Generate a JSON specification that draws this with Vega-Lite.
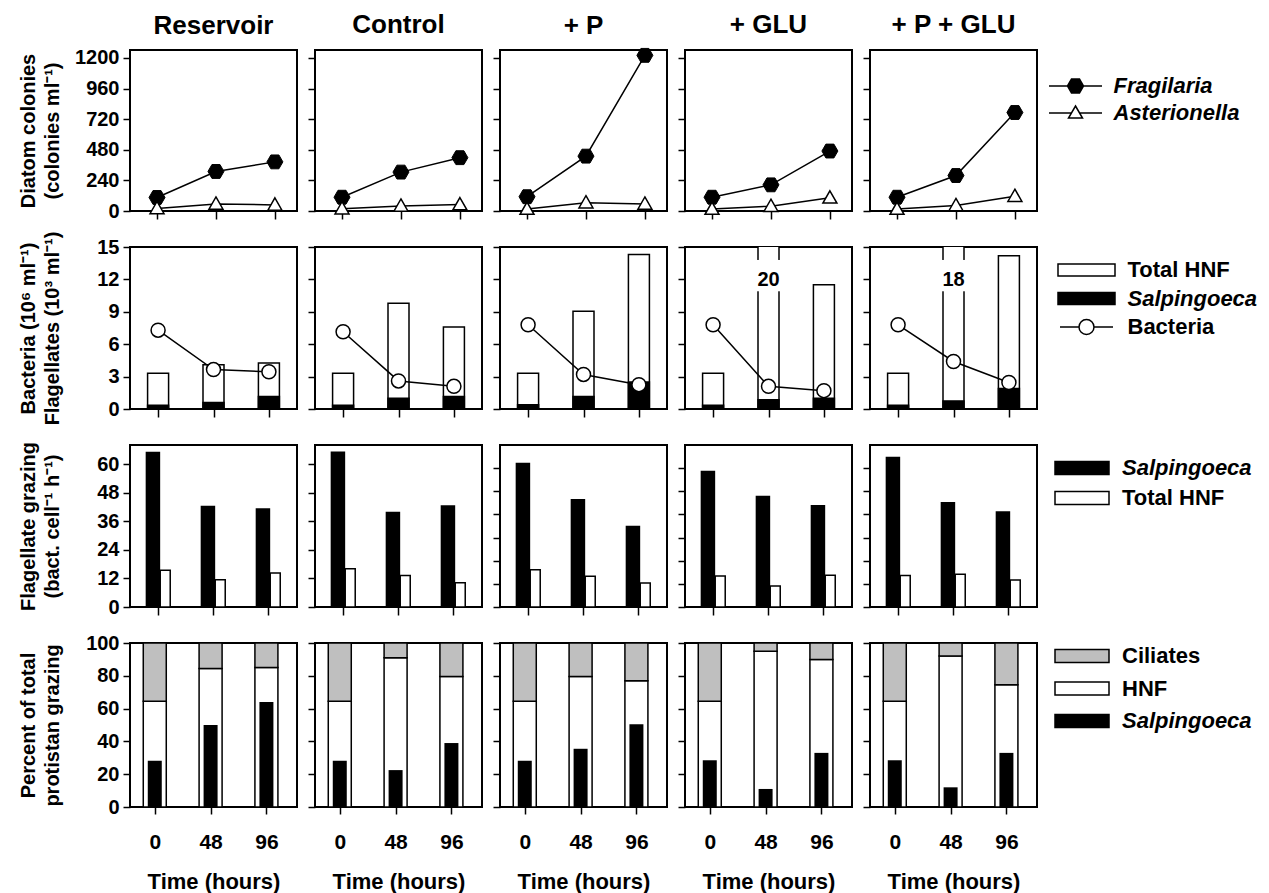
{
"$schema": "https://vega.github.io/schema/vega-lite/v6.json",
"background": "white",
"padding": {"left": 16, "top": 11, "right": 5, "bottom": 5},
"datasets": {
"dia": [
{"treat":"Reservoir","time":0,"species":"Fragilaria","value":106},
{"treat":"Reservoir","time":48,"species":"Fragilaria","value":310},
{"treat":"Reservoir","time":96,"species":"Fragilaria","value":385},
{"treat":"Reservoir","time":0,"species":"Asterionella","value":20},
{"treat":"Reservoir","time":48,"species":"Asterionella","value":55},
{"treat":"Reservoir","time":96,"species":"Asterionella","value":48},
{"treat":"Control","time":0,"species":"Fragilaria","value":108},
{"treat":"Control","time":48,"species":"Fragilaria","value":305},
{"treat":"Control","time":96,"species":"Fragilaria","value":418},
{"treat":"Control","time":0,"species":"Asterionella","value":18},
{"treat":"Control","time":48,"species":"Asterionella","value":40},
{"treat":"Control","time":96,"species":"Asterionella","value":50},
{"treat":"+ P","time":0,"species":"Fragilaria","value":112},
{"treat":"+ P","time":48,"species":"Fragilaria","value":430},
{"treat":"+ P","time":96,"species":"Fragilaria","value":1220},
{"treat":"+ P","time":0,"species":"Asterionella","value":15},
{"treat":"+ P","time":48,"species":"Asterionella","value":65},
{"treat":"+ P","time":96,"species":"Asterionella","value":55},
{"treat":"+ GLU","time":0,"species":"Fragilaria","value":108},
{"treat":"+ GLU","time":48,"species":"Fragilaria","value":205},
{"treat":"+ GLU","time":96,"species":"Fragilaria","value":470},
{"treat":"+ GLU","time":0,"species":"Asterionella","value":15},
{"treat":"+ GLU","time":48,"species":"Asterionella","value":38},
{"treat":"+ GLU","time":96,"species":"Asterionella","value":103},
{"treat":"+ P + GLU","time":0,"species":"Fragilaria","value":108},
{"treat":"+ P + GLU","time":48,"species":"Fragilaria","value":278},
{"treat":"+ P + GLU","time":96,"species":"Fragilaria","value":772},
{"treat":"+ P + GLU","time":0,"species":"Asterionella","value":15},
{"treat":"+ P + GLU","time":48,"species":"Asterionella","value":44},
{"treat":"+ P + GLU","time":96,"species":"Asterionella","value":116}
],
"bac": [
{"treat":"Reservoir","time":0,"hnf":3.3,"salp":0.35,"bact":7.3},
{"treat":"Reservoir","time":48,"hnf":4.1,"salp":0.6,"bact":3.65},
{"treat":"Reservoir","time":96,"hnf":4.25,"salp":1.15,"bact":3.45},
{"treat":"Control","time":0,"hnf":3.3,"salp":0.35,"bact":7.15},
{"treat":"Control","time":48,"hnf":9.8,"salp":1.0,"bact":2.6},
{"treat":"Control","time":96,"hnf":7.6,"salp":1.15,"bact":2.1},
{"treat":"+ P","time":0,"hnf":3.3,"salp":0.4,"bact":7.8},
{"treat":"+ P","time":48,"hnf":9.05,"salp":1.15,"bact":3.2},
{"treat":"+ P","time":96,"hnf":14.3,"salp":2.5,"bact":2.25},
{"treat":"+ GLU","time":0,"hnf":3.3,"salp":0.35,"bact":7.8},
{"treat":"+ GLU","time":48,"hnf":20,"salp":0.85,"bact":2.1},
{"treat":"+ GLU","time":96,"hnf":11.5,"salp":1.0,"bact":1.7},
{"treat":"+ P + GLU","time":0,"hnf":3.3,"salp":0.35,"bact":7.8},
{"treat":"+ P + GLU","time":48,"hnf":18,"salp":0.75,"bact":4.4},
{"treat":"+ P + GLU","time":96,"hnf":14.2,"salp":1.9,"bact":2.45}
],
"grz": [
{"treat":"Reservoir","time":0,"salp":65.2,"hnf":15.4},
{"treat":"Reservoir","time":48,"salp":42.5,"hnf":11.4},
{"treat":"Reservoir","time":96,"salp":41.5,"hnf":14.3},
{"treat":"Control","time":0,"salp":65.3,"hnf":16.1},
{"treat":"Control","time":48,"salp":40.0,"hnf":13.2},
{"treat":"Control","time":96,"salp":42.7,"hnf":10.2},
{"treat":"+ P","time":0,"salp":62.3,"hnf":16.1},
{"treat":"+ P","time":48,"salp":46.7,"hnf":13.3},
{"treat":"+ P","time":96,"salp":35.1,"hnf":10.4},
{"treat":"+ GLU","time":0,"salp":58.9,"hnf":13.4},
{"treat":"+ GLU","time":48,"salp":48.1,"hnf":9.1},
{"treat":"+ GLU","time":96,"salp":44.1,"hnf":13.7},
{"treat":"+ P + GLU","time":0,"salp":64.9,"hnf":13.6},
{"treat":"+ P + GLU","time":48,"salp":45.4,"hnf":14.1},
{"treat":"+ P + GLU","time":96,"salp":41.4,"hnf":11.7}
],
"pct": [
{"treat":"Reservoir","time":0,"hnf":64.5,"salp":28.2},
{"treat":"Reservoir","time":48,"hnf":84.5,"salp":50},
{"treat":"Reservoir","time":96,"hnf":85,"salp":64},
{"treat":"Control","time":0,"hnf":64.5,"salp":28.2},
{"treat":"Control","time":48,"hnf":91,"salp":22.5},
{"treat":"Control","time":96,"hnf":79.5,"salp":39},
{"treat":"+ P","time":0,"hnf":64.5,"salp":28.2},
{"treat":"+ P","time":48,"hnf":79.5,"salp":35.5},
{"treat":"+ P","time":96,"hnf":77,"salp":50.5},
{"treat":"+ GLU","time":0,"hnf":64.5,"salp":28.5},
{"treat":"+ GLU","time":48,"hnf":95,"salp":11},
{"treat":"+ GLU","time":96,"hnf":90,"salp":33},
{"treat":"+ P + GLU","time":0,"hnf":64.5,"salp":28.5},
{"treat":"+ P + GLU","time":48,"hnf":92,"salp":12},
{"treat":"+ P + GLU","time":96,"hnf":74.5,"salp":33}
]
},
"columns": 5,
"spacing": {"row": 36, "column": 18},
"bounds": "flush",
"resolve": {"scale": {"fill":"independent","shape":"independent","stroke":"independent"}, "legend": {"fill":"independent","shape":"independent","stroke":"independent"}},
"concat": [
{"width":167,"height":161,"title":{"text":"Reservoir","offset":9},"data":{"name":"dia"},"transform":[{"filter":"datum.treat == 'Reservoir'"}],
"encoding":{"x":{"field":"time","type":"quantitative","scale":{"domain":[-22,114]},"axis":{"values":[0,48,96],"labels":false,"title":null,"tickSize":8}},
"y":{"field":"value","type":"quantitative","scale":{"domain":[0,1262]},"axis":{"values":[0,240,480,720,960,1200],"format":"d","title":["Diatom colonies","(colonies ml⁻¹)"],"titleX":-92,"titleLineHeight":24}}},
"layer":[
{"mark":{"type":"line","color":"black","strokeWidth":1.5},"encoding":{"detail":{"field":"species"}}},
{"transform":[{"filter":"datum.species == 'Fragilaria'"}],"mark":{"type":"point","shape":"M-1,0L-0.5,-0.866L0.5,-0.866L1,0L0.5,0.866L-0.5,0.866Z","size":256,"filled":true,"fill":"black","stroke":"black","strokeWidth":1,"opacity":1}},
{"transform":[{"filter":"datum.species == 'Asterionella'"}],"mark":{"type":"point","shape":"M0,-1L1,0.75L-1,0.75Z","size":196,"filled":true,"fill":"white","stroke":"black","strokeWidth":1.5,"opacity":1}}
]},
{"width":167,"height":161,"title":{"text":"Control","offset":12},"data":{"name":"dia"},"transform":[{"filter":"datum.treat == 'Control'"}],
"encoding":{"x":{"field":"time","type":"quantitative","scale":{"domain":[-22,114]},"axis":{"values":[0,48,96],"labels":false,"title":null,"tickSize":8}},
"y":{"field":"value","type":"quantitative","scale":{"domain":[0,1262]},"axis":{"values":[0,240,480,720,960,1200],"labels":false,"title":null}}},
"layer":[
{"mark":{"type":"line","color":"black","strokeWidth":1.5},"encoding":{"detail":{"field":"species"}}},
{"transform":[{"filter":"datum.species == 'Fragilaria'"}],"mark":{"type":"point","shape":"M-1,0L-0.5,-0.866L0.5,-0.866L1,0L0.5,0.866L-0.5,0.866Z","size":256,"filled":true,"fill":"black","stroke":"black","strokeWidth":1,"opacity":1}},
{"transform":[{"filter":"datum.species == 'Asterionella'"}],"mark":{"type":"point","shape":"M0,-1L1,0.75L-1,0.75Z","size":196,"filled":true,"fill":"white","stroke":"black","strokeWidth":1.5,"opacity":1}}
]},
{"width":167,"height":161,"title":{"text":"+ P","offset":7},"data":{"name":"dia"},"transform":[{"filter":"datum.treat == '+ P'"}],
"encoding":{"x":{"field":"time","type":"quantitative","scale":{"domain":[-22,114]},"axis":{"values":[0,48,96],"labels":false,"title":null,"tickSize":8}},
"y":{"field":"value","type":"quantitative","scale":{"domain":[0,1262]},"axis":{"values":[0,240,480,720,960,1200],"labels":false,"title":null}}},
"layer":[
{"mark":{"type":"line","color":"black","strokeWidth":1.5},"encoding":{"detail":{"field":"species"}}},
{"transform":[{"filter":"datum.species == 'Fragilaria'"}],"mark":{"type":"point","shape":"M-1,0L-0.5,-0.866L0.5,-0.866L1,0L0.5,0.866L-0.5,0.866Z","size":256,"filled":true,"fill":"black","stroke":"black","strokeWidth":1,"opacity":1}},
{"transform":[{"filter":"datum.species == 'Asterionella'"}],"mark":{"type":"point","shape":"M0,-1L1,0.75L-1,0.75Z","size":196,"filled":true,"fill":"white","stroke":"black","strokeWidth":1.5,"opacity":1}}
]},
{"width":167,"height":161,"title":{"text":"+ GLU","offset":12},"data":{"name":"dia"},"transform":[{"filter":"datum.treat == '+ GLU'"}],
"encoding":{"x":{"field":"time","type":"quantitative","scale":{"domain":[-22,114]},"axis":{"values":[0,48,96],"labels":false,"title":null,"tickSize":8}},
"y":{"field":"value","type":"quantitative","scale":{"domain":[0,1262]},"axis":{"values":[0,240,480,720,960,1200],"labels":false,"title":null}}},
"layer":[
{"mark":{"type":"line","color":"black","strokeWidth":1.5},"encoding":{"detail":{"field":"species"}}},
{"transform":[{"filter":"datum.species == 'Fragilaria'"}],"mark":{"type":"point","shape":"M-1,0L-0.5,-0.866L0.5,-0.866L1,0L0.5,0.866L-0.5,0.866Z","size":256,"filled":true,"fill":"black","stroke":"black","strokeWidth":1,"opacity":1}},
{"transform":[{"filter":"datum.species == 'Asterionella'"}],"mark":{"type":"point","shape":"M0,-1L1,0.75L-1,0.75Z","size":196,"filled":true,"fill":"white","stroke":"black","strokeWidth":1.5,"opacity":1}}
]},
{"width":167,"height":161,"title":{"text":"+ P + GLU","offset":12},"data":{"name":"dia"},"transform":[{"filter":"datum.treat == '+ P + GLU'"}],
"encoding":{"x":{"field":"time","type":"quantitative","scale":{"domain":[-22,114]},"axis":{"values":[0,48,96],"labels":false,"title":null,"tickSize":8}},
"y":{"field":"value","type":"quantitative","scale":{"domain":[0,1262]},"axis":{"values":[0,240,480,720,960,1200],"labels":false,"title":null}}},
"layer":[
{"mark":{"type":"line","color":"black","strokeWidth":1.5},"encoding":{"detail":{"field":"species"}}},
{"transform":[{"filter":"datum.species == 'Fragilaria'"}],"mark":{"type":"point","shape":"M-1,0L-0.5,-0.866L0.5,-0.866L1,0L0.5,0.866L-0.5,0.866Z","size":256,"filled":true,"fill":"black","stroke":"black","strokeWidth":1,"opacity":1}},
{"transform":[{"filter":"datum.species == 'Asterionella'"}],"mark":{"type":"point","shape":"M0,-1L1,0.75L-1,0.75Z","size":196,"filled":true,"fill":"white","stroke":"black","strokeWidth":1.5,"opacity":1}},
{"transform":[{"filter":"false"}],"mark":{"type":"point","filled":true,"strokeWidth":1.5,"opacity":1},"encoding":{
"fill":{"field":"species","type":"nominal","scale":{"domain":["Fragilaria","Asterionella"],"range":["black","white"]},"legend":{"orient":"none","legendX":179,"legendY":25,"title":null,"symbolSize":400,"symbolOffset":15.5,"labelOffset":27,"rowPadding":5,"labelFontStyle":"italic"}},
"stroke":{"field":"species","type":"nominal","scale":{"domain":["Fragilaria","Asterionella"],"range":["black","black"]},"legend":{"orient":"none","legendX":179,"legendY":25,"title":null,"symbolSize":400,"symbolOffset":15.5,"labelOffset":27,"rowPadding":5,"labelFontStyle":"italic"}},
"shape":{"field":"species","type":"nominal","scale":{"domain":["Fragilaria","Asterionella"],"range":["M-2.65,0H2.65M-0.8,0L-0.4,-0.69L0.4,-0.69L0.8,0L0.4,0.69L-0.4,0.69Z","M-2.65,0H-0.41M0.41,0H2.65M0,-0.7L0.7,0.5L-0.7,0.5Z"]},"legend":{"orient":"none","legendX":179,"legendY":25,"title":null,"symbolSize":400,"symbolOffset":15.5,"labelOffset":27,"rowPadding":5,"labelFontStyle":"italic"}}}}
]},
{"width":167,"height":162,"data":{"name":"bac"},"transform":[{"filter":"datum.treat == 'Reservoir'"}],
"encoding":{"x":{"field":"time","type":"quantitative","scale":{"domain":[-20,116]},"axis":{"values":[0,48,96],"labels":false,"title":null,"tickSize":8}}},
"layer":[
{"mark":{"type":"bar","width":21,"fill":"white","stroke":"black","strokeWidth":1.5,"clip":true},"encoding":{"y":{"field":"hnf","type":"quantitative","scale":{"domain":[0,15]},"axis":{"values":[0,3,6,9,12,15],"title":["Bacteria (10⁶ ml⁻¹)","Flagellates (10³ ml⁻¹)"],"titleX":-92,"titleLineHeight":24}}}},
{"mark":{"type":"bar","width":21,"fill":"black","stroke":"black","strokeWidth":1.5},"encoding":{"y":{"field":"salp","type":"quantitative","scale":{"domain":[0,15]},"axis":{"values":[0,3,6,9,12,15],"title":["Bacteria (10⁶ ml⁻¹)","Flagellates (10³ ml⁻¹)"],"titleX":-92,"titleLineHeight":24}}}},
{"mark":{"type":"line","color":"black","strokeWidth":1.5},"encoding":{"y":{"field":"bact","type":"quantitative","scale":{"domain":[0,15]},"axis":{"values":[0,3,6,9,12,15],"title":["Bacteria (10⁶ ml⁻¹)","Flagellates (10³ ml⁻¹)"],"titleX":-92,"titleLineHeight":24}}}},
{"mark":{"type":"point","shape":"circle","size":196,"filled":true,"fill":"white","stroke":"black","strokeWidth":1.5,"opacity":1},"encoding":{"y":{"field":"bact","type":"quantitative","scale":{"domain":[0,15]},"axis":{"values":[0,3,6,9,12,15],"title":["Bacteria (10⁶ ml⁻¹)","Flagellates (10³ ml⁻¹)"],"titleX":-92,"titleLineHeight":24}}}}
]},
{"width":167,"height":162,"data":{"name":"bac"},"transform":[{"filter":"datum.treat == 'Control'"}],
"encoding":{"x":{"field":"time","type":"quantitative","scale":{"domain":[-20,116]},"axis":{"values":[0,48,96],"labels":false,"title":null,"tickSize":8}}},
"layer":[
{"mark":{"type":"bar","width":21,"fill":"white","stroke":"black","strokeWidth":1.5,"clip":true},"encoding":{"y":{"field":"hnf","type":"quantitative","scale":{"domain":[0,15]},"axis":{"values":[0,3,6,9,12,15],"labels":false,"title":null}}}},
{"mark":{"type":"bar","width":21,"fill":"black","stroke":"black","strokeWidth":1.5},"encoding":{"y":{"field":"salp","type":"quantitative","scale":{"domain":[0,15]},"axis":{"values":[0,3,6,9,12,15],"labels":false,"title":null}}}},
{"mark":{"type":"line","color":"black","strokeWidth":1.5},"encoding":{"y":{"field":"bact","type":"quantitative","scale":{"domain":[0,15]},"axis":{"values":[0,3,6,9,12,15],"labels":false,"title":null}}}},
{"mark":{"type":"point","shape":"circle","size":196,"filled":true,"fill":"white","stroke":"black","strokeWidth":1.5,"opacity":1},"encoding":{"y":{"field":"bact","type":"quantitative","scale":{"domain":[0,15]},"axis":{"values":[0,3,6,9,12,15],"labels":false,"title":null}}}}
]},
{"width":167,"height":162,"data":{"name":"bac"},"transform":[{"filter":"datum.treat == '+ P'"}],
"encoding":{"x":{"field":"time","type":"quantitative","scale":{"domain":[-20,116]},"axis":{"values":[0,48,96],"labels":false,"title":null,"tickSize":8}}},
"layer":[
{"mark":{"type":"bar","width":21,"fill":"white","stroke":"black","strokeWidth":1.5,"clip":true},"encoding":{"y":{"field":"hnf","type":"quantitative","scale":{"domain":[0,15]},"axis":{"values":[0,3,6,9,12,15],"labels":false,"title":null}}}},
{"mark":{"type":"bar","width":21,"fill":"black","stroke":"black","strokeWidth":1.5},"encoding":{"y":{"field":"salp","type":"quantitative","scale":{"domain":[0,15]},"axis":{"values":[0,3,6,9,12,15],"labels":false,"title":null}}}},
{"mark":{"type":"line","color":"black","strokeWidth":1.5},"encoding":{"y":{"field":"bact","type":"quantitative","scale":{"domain":[0,15]},"axis":{"values":[0,3,6,9,12,15],"labels":false,"title":null}}}},
{"mark":{"type":"point","shape":"circle","size":196,"filled":true,"fill":"white","stroke":"black","strokeWidth":1.5,"opacity":1},"encoding":{"y":{"field":"bact","type":"quantitative","scale":{"domain":[0,15]},"axis":{"values":[0,3,6,9,12,15],"labels":false,"title":null}}}}
]},
{"width":167,"height":162,"data":{"name":"bac"},"transform":[{"filter":"datum.treat == '+ GLU'"}],
"encoding":{"x":{"field":"time","type":"quantitative","scale":{"domain":[-20,116]},"axis":{"values":[0,48,96],"labels":false,"title":null,"tickSize":8}}},
"layer":[
{"mark":{"type":"bar","width":21,"fill":"white","stroke":"black","strokeWidth":1.5,"clip":true},"encoding":{"y":{"field":"hnf","type":"quantitative","scale":{"domain":[0,15]},"axis":{"values":[0,3,6,9,12,15],"labels":false,"title":null}}}},
{"mark":{"type":"bar","width":21,"fill":"black","stroke":"black","strokeWidth":1.5},"encoding":{"y":{"field":"salp","type":"quantitative","scale":{"domain":[0,15]},"axis":{"values":[0,3,6,9,12,15],"labels":false,"title":null}}}},
{"transform":[{"filter":"datum.hnf > 15"}],"mark":{"type":"bar","width":26,"fill":"white"},"encoding":{"y":{"datum":10.9,"type":"quantitative","scale":{"domain":[0,15]},"axis":{"values":[0,3,6,9,12,15],"labels":false,"title":null}},"y2":{"datum":13.8}}},
{"transform":[{"filter":"datum.hnf > 15"}],"mark":{"type":"text","fontSize":20,"fontWeight":"bold","font":"Liberation Sans","color":"black","baseline":"middle"},"encoding":{"y":{"datum":11.9,"type":"quantitative","scale":{"domain":[0,15]},"axis":{"values":[0,3,6,9,12,15],"labels":false,"title":null}},"text":{"field":"hnf","type":"quantitative"}}},
{"mark":{"type":"line","color":"black","strokeWidth":1.5},"encoding":{"y":{"field":"bact","type":"quantitative","scale":{"domain":[0,15]},"axis":{"values":[0,3,6,9,12,15],"labels":false,"title":null}}}},
{"mark":{"type":"point","shape":"circle","size":196,"filled":true,"fill":"white","stroke":"black","strokeWidth":1.5,"opacity":1},"encoding":{"y":{"field":"bact","type":"quantitative","scale":{"domain":[0,15]},"axis":{"values":[0,3,6,9,12,15],"labels":false,"title":null}}}}
]},
{"width":167,"height":162,"data":{"name":"bac"},"transform":[{"filter":"datum.treat == '+ P + GLU'"}],
"encoding":{"x":{"field":"time","type":"quantitative","scale":{"domain":[-20,116]},"axis":{"values":[0,48,96],"labels":false,"title":null,"tickSize":8}}},
"resolve": {"scale": {"fill":"independent","shape":"independent","stroke":"independent"}, "legend": {"fill":"independent","shape":"independent","stroke":"independent"}},
"layer":[
{"mark":{"type":"bar","width":21,"fill":"white","stroke":"black","strokeWidth":1.5,"clip":true},"encoding":{"y":{"field":"hnf","type":"quantitative","scale":{"domain":[0,15]},"axis":{"values":[0,3,6,9,12,15],"labels":false,"title":null}}}},
{"mark":{"type":"bar","width":21,"fill":"black","stroke":"black","strokeWidth":1.5},"encoding":{"y":{"field":"salp","type":"quantitative","scale":{"domain":[0,15]},"axis":{"values":[0,3,6,9,12,15],"labels":false,"title":null}}}},
{"transform":[{"filter":"datum.hnf > 15"}],"mark":{"type":"bar","width":26,"fill":"white"},"encoding":{"y":{"datum":10.9,"type":"quantitative","scale":{"domain":[0,15]},"axis":{"values":[0,3,6,9,12,15],"labels":false,"title":null}},"y2":{"datum":13.8}}},
{"transform":[{"filter":"datum.hnf > 15"}],"mark":{"type":"text","fontSize":20,"fontWeight":"bold","font":"Liberation Sans","color":"black","baseline":"middle"},"encoding":{"y":{"datum":11.9,"type":"quantitative","scale":{"domain":[0,15]},"axis":{"values":[0,3,6,9,12,15],"labels":false,"title":null}},"text":{"field":"hnf","type":"quantitative"}}},
{"mark":{"type":"line","color":"black","strokeWidth":1.5},"encoding":{"y":{"field":"bact","type":"quantitative","scale":{"domain":[0,15]},"axis":{"values":[0,3,6,9,12,15],"labels":false,"title":null}}}},
{"mark":{"type":"point","shape":"circle","size":196,"filled":true,"fill":"white","stroke":"black","strokeWidth":1.5,"opacity":1},"encoding":{"y":{"field":"bact","type":"quantitative","scale":{"domain":[0,15]},"axis":{"values":[0,3,6,9,12,15],"labels":false,"title":null}}}},
{"transform":[{"filter":"false"}],"mark":{"type":"point","filled":true,"strokeWidth":1.5,"opacity":1},"encoding":{
"y":{"field":"bact","type":"quantitative","scale":{"domain":[0,15]},"axis":{"values":[0,3,6,9,12,15],"labels":false,"title":null}},
"fill":{"field":"key","type":"nominal","scale":{"domain":["Total HNF"],"range":["white"]},"legend":{"orient":"none","legendX":188,"legendY":12,"title":null,"symbolSize":400,"symbolOffset":17.5,"labelOffset":30}},
"stroke":{"field":"key","type":"nominal","scale":{"domain":["Total HNF"],"range":["black"]},"legend":{"orient":"none","legendX":188,"legendY":12,"title":null,"symbolSize":400,"symbolOffset":17.5,"labelOffset":30}},
"shape":{"field":"key","type":"nominal","scale":{"domain":["Total HNF"],"range":["M-2.85,-0.6H2.85V0.6H-2.85Z"]},"legend":{"orient":"none","legendX":188,"legendY":12,"title":null,"symbolSize":400,"symbolOffset":17.5,"labelOffset":30}}}},
{"transform":[{"filter":"false"}],"mark":{"type":"point","filled":true,"strokeWidth":1.5,"opacity":1},"encoding":{
"y":{"field":"bact","type":"quantitative","scale":{"domain":[0,15]},"axis":{"values":[0,3,6,9,12,15],"labels":false,"title":null}},
"fill":{"field":"key","type":"nominal","scale":{"domain":["Salpingoeca"],"range":["black"]},"legend":{"orient":"none","legendX":188,"legendY":40.5,"title":null,"symbolSize":400,"symbolOffset":17.5,"labelOffset":30,"labelFontStyle":"italic"}},
"stroke":{"field":"key","type":"nominal","scale":{"domain":["Salpingoeca"],"range":["black"]},"legend":{"orient":"none","legendX":188,"legendY":40.5,"title":null,"symbolSize":400,"symbolOffset":17.5,"labelOffset":30,"labelFontStyle":"italic"}},
"shape":{"field":"key","type":"nominal","scale":{"domain":["Salpingoeca"],"range":["M-2.85,-0.6H2.85V0.6H-2.85Z"]},"legend":{"orient":"none","legendX":188,"legendY":40.5,"title":null,"symbolSize":400,"symbolOffset":17.5,"labelOffset":30,"labelFontStyle":"italic"}}}},
{"transform":[{"filter":"false"}],"mark":{"type":"point","filled":true,"strokeWidth":1.5,"opacity":1},"encoding":{
"y":{"field":"bact","type":"quantitative","scale":{"domain":[0,15]},"axis":{"values":[0,3,6,9,12,15],"labels":false,"title":null}},
"fill":{"field":"key","type":"nominal","scale":{"domain":["Bacteria"],"range":["white"]},"legend":{"orient":"none","legendX":188,"legendY":69,"title":null,"symbolSize":400,"symbolOffset":17.5,"labelOffset":30}},
"stroke":{"field":"key","type":"nominal","scale":{"domain":["Bacteria"],"range":["black"]},"legend":{"orient":"none","legendX":188,"legendY":69,"title":null,"symbolSize":400,"symbolOffset":17.5,"labelOffset":30}},
"shape":{"field":"key","type":"nominal","scale":{"domain":["Bacteria"],"range":["M-2.65,0H-0.75M0.75,0H2.65M-0.75,0A0.75,0.75 0 1,0 0.75,0A0.75,0.75 0 1,0 -0.75,0Z"]},"legend":{"orient":"none","legendX":188,"legendY":69,"title":null,"symbolSize":400,"symbolOffset":17.5,"labelOffset":30}}}}
]},
{"width":167,"height":162,"data":{"name":"grz"},"transform":[{"filter":"datum.treat == 'Reservoir'"}],
"encoding":{"x":{"field":"time","type":"quantitative","scale":{"domain":[-20,117]},"axis":{"values":[0,48,96],"labels":false,"title":null,"tickSize":8}}},
"layer":[
{"mark":{"type":"bar","width":14.5,"xOffset":-5,"fill":"black"},"encoding":{"y":{"field":"salp","type":"quantitative","scale":{"domain":[0,68]},"axis":{"values":[0,12,24,36,48,60],"title":["Flagellate grazing","(bact. cell⁻¹ h⁻¹)"],"titleX":-92,"titleLineHeight":24}}}},
{"mark":{"type":"bar","width":10,"xOffset":7.3,"fill":"white","stroke":"black","strokeWidth":1.5},"encoding":{"y":{"field":"hnf","type":"quantitative","scale":{"domain":[0,68]},"axis":{"values":[0,12,24,36,48,60],"title":["Flagellate grazing","(bact. cell⁻¹ h⁻¹)"],"titleX":-92,"titleLineHeight":24}}}}
]},
{"width":167,"height":162,"data":{"name":"grz"},"transform":[{"filter":"datum.treat == 'Control'"}],
"encoding":{"x":{"field":"time","type":"quantitative","scale":{"domain":[-20,117]},"axis":{"values":[0,48,96],"labels":false,"title":null,"tickSize":8}}},
"layer":[
{"mark":{"type":"bar","width":14.5,"xOffset":-5,"fill":"black"},"encoding":{"y":{"field":"salp","type":"quantitative","scale":{"domain":[0,68]},"axis":{"values":[0,12,24,36,48,60],"labels":false,"title":null}}}},
{"mark":{"type":"bar","width":10,"xOffset":7.3,"fill":"white","stroke":"black","strokeWidth":1.5},"encoding":{"y":{"field":"hnf","type":"quantitative","scale":{"domain":[0,68]},"axis":{"values":[0,12,24,36,48,60],"labels":false,"title":null}}}}
]},
{"width":167,"height":162,"data":{"name":"grz"},"transform":[{"filter":"datum.treat == '+ P'"}],
"encoding":{"x":{"field":"time","type":"quantitative","scale":{"domain":[-20,117]},"axis":{"values":[0,48,96],"labels":false,"title":null,"tickSize":8}}},
"layer":[
{"mark":{"type":"bar","width":14.5,"xOffset":-5,"fill":"black"},"encoding":{"y":{"field":"salp","type":"quantitative","scale":{"domain":[0,70]},"axis":{"values":[0,10,20,30,40,50,60],"labels":false,"title":null}}}},
{"mark":{"type":"bar","width":10,"xOffset":7.3,"fill":"white","stroke":"black","strokeWidth":1.5},"encoding":{"y":{"field":"hnf","type":"quantitative","scale":{"domain":[0,70]},"axis":{"values":[0,10,20,30,40,50,60],"labels":false,"title":null}}}}
]},
{"width":167,"height":162,"data":{"name":"grz"},"transform":[{"filter":"datum.treat == '+ GLU'"}],
"encoding":{"x":{"field":"time","type":"quantitative","scale":{"domain":[-20,117]},"axis":{"values":[0,48,96],"labels":false,"title":null,"tickSize":8}}},
"layer":[
{"mark":{"type":"bar","width":14.5,"xOffset":-5,"fill":"black"},"encoding":{"y":{"field":"salp","type":"quantitative","scale":{"domain":[0,70]},"axis":{"values":[0,10,20,30,40,50,60],"labels":false,"title":null}}}},
{"mark":{"type":"bar","width":10,"xOffset":7.3,"fill":"white","stroke":"black","strokeWidth":1.5},"encoding":{"y":{"field":"hnf","type":"quantitative","scale":{"domain":[0,70]},"axis":{"values":[0,10,20,30,40,50,60],"labels":false,"title":null}}}}
]},
{"width":167,"height":162,"data":{"name":"grz"},"transform":[{"filter":"datum.treat == '+ P + GLU'"}],
"encoding":{"x":{"field":"time","type":"quantitative","scale":{"domain":[-20,117]},"axis":{"values":[0,48,96],"labels":false,"title":null,"tickSize":8}}},
"resolve": {"scale": {"fill":"independent"}, "legend": {"fill":"independent"}},
"layer":[
{"mark":{"type":"bar","width":14.5,"xOffset":-5,"fill":"black"},"encoding":{"y":{"field":"salp","type":"quantitative","scale":{"domain":[0,70]},"axis":{"values":[0,10,20,30,40,50,60],"labels":false,"title":null}}}},
{"mark":{"type":"bar","width":10,"xOffset":7.3,"fill":"white","stroke":"black","strokeWidth":1.5},"encoding":{"y":{"field":"hnf","type":"quantitative","scale":{"domain":[0,70]},"axis":{"values":[0,10,20,30,40,50,60],"labels":false,"title":null}}}},
{"transform":[{"filter":"false"}],"mark":{"type":"point","filled":true,"stroke":"black","strokeWidth":1.5,"opacity":1},"encoding":{
"y":{"field":"hnf","type":"quantitative","scale":{"domain":[0,70]},"axis":{"values":[0,10,20,30,40,50,60],"labels":false,"title":null}},
"fill":{"field":"key","type":"nominal","scale":{"domain":["Salpingoeca"],"range":["black"]},"legend":{"orient":"none","legendX":185,"legendY":12,"title":null,"symbolSize":400,"symbolType":"M-2.7,-0.65H2.7V0.65H-2.7Z","symbolOffset":16,"labelOffset":29,"labelFontStyle":"italic","encode":{"symbols":{"update":{"stroke":{"value":"black"},"strokeWidth":{"value":1.5}}}}}}}},
{"transform":[{"filter":"false"}],"mark":{"type":"point","filled":true,"stroke":"black","strokeWidth":1.5,"opacity":1},"encoding":{
"y":{"field":"hnf","type":"quantitative","scale":{"domain":[0,70]},"axis":{"values":[0,10,20,30,40,50,60],"labels":false,"title":null}},
"fill":{"field":"key","type":"nominal","scale":{"domain":["Total HNF"],"range":["white"]},"legend":{"orient":"none","legendX":185,"legendY":42,"title":null,"symbolSize":400,"symbolType":"M-2.7,-0.65H2.7V0.65H-2.7Z","symbolOffset":16,"labelOffset":29,"encode":{"symbols":{"update":{"stroke":{"value":"black"},"strokeWidth":{"value":1.5}}}}}}}}
]},
{"width":167,"height":164,"data":{"name":"pct"},"transform":[{"filter":"datum.treat == 'Reservoir'"}],
"encoding":{"x":{"field":"time","type":"quantitative","scale":{"domain":[-17,118]},"axis":{"values":[0,48,96],"title":"Time (hours)","labelFontSize":21,"titleFontSize":22,"labelPadding":17,"titlePadding":19}}},
"layer":[
{"mark":{"type":"bar","width":23,"fill":"white","stroke":"black","strokeWidth":1.5},"encoding":{"y":{"field":"hnf","type":"quantitative","scale":{"domain":[0,100]},"axis":{"values":[0,20,40,60,80,100],"title":["Percent of total","protistan grazing"],"titleX":-92,"titleLineHeight":24}}}},
{"mark":{"type":"bar","width":23,"fill":"#bfbfbf","stroke":"black","strokeWidth":1.5},"encoding":{"y":{"field":"hnf","type":"quantitative","scale":{"domain":[0,100]},"axis":{"values":[0,20,40,60,80,100],"title":["Percent of total","protistan grazing"],"titleX":-92,"titleLineHeight":24}},"y2":{"datum":100}}},
{"mark":{"type":"bar","width":14,"fill":"black"},"encoding":{"y":{"field":"salp","type":"quantitative","scale":{"domain":[0,100]},"axis":{"values":[0,20,40,60,80,100],"title":["Percent of total","protistan grazing"],"titleX":-92,"titleLineHeight":24}}}}
]},
{"width":167,"height":164,"data":{"name":"pct"},"transform":[{"filter":"datum.treat == 'Control'"}],
"encoding":{"x":{"field":"time","type":"quantitative","scale":{"domain":[-17,118]},"axis":{"values":[0,48,96],"title":"Time (hours)","labelFontSize":21,"titleFontSize":22,"labelPadding":17,"titlePadding":19}}},
"layer":[
{"mark":{"type":"bar","width":23,"fill":"white","stroke":"black","strokeWidth":1.5},"encoding":{"y":{"field":"hnf","type":"quantitative","scale":{"domain":[0,100]},"axis":{"values":[0,20,40,60,80,100],"labels":false,"title":null}}}},
{"mark":{"type":"bar","width":23,"fill":"#bfbfbf","stroke":"black","strokeWidth":1.5},"encoding":{"y":{"field":"hnf","type":"quantitative","scale":{"domain":[0,100]},"axis":{"values":[0,20,40,60,80,100],"labels":false,"title":null}},"y2":{"datum":100}}},
{"mark":{"type":"bar","width":14,"fill":"black"},"encoding":{"y":{"field":"salp","type":"quantitative","scale":{"domain":[0,100]},"axis":{"values":[0,20,40,60,80,100],"labels":false,"title":null}}}}
]},
{"width":167,"height":164,"data":{"name":"pct"},"transform":[{"filter":"datum.treat == '+ P'"}],
"encoding":{"x":{"field":"time","type":"quantitative","scale":{"domain":[-17,118]},"axis":{"values":[0,48,96],"title":"Time (hours)","labelFontSize":21,"titleFontSize":22,"labelPadding":17,"titlePadding":19}}},
"layer":[
{"mark":{"type":"bar","width":23,"fill":"white","stroke":"black","strokeWidth":1.5},"encoding":{"y":{"field":"hnf","type":"quantitative","scale":{"domain":[0,100]},"axis":{"values":[0,20,40,60,80,100],"labels":false,"title":null}}}},
{"mark":{"type":"bar","width":23,"fill":"#bfbfbf","stroke":"black","strokeWidth":1.5},"encoding":{"y":{"field":"hnf","type":"quantitative","scale":{"domain":[0,100]},"axis":{"values":[0,20,40,60,80,100],"labels":false,"title":null}},"y2":{"datum":100}}},
{"mark":{"type":"bar","width":14,"fill":"black"},"encoding":{"y":{"field":"salp","type":"quantitative","scale":{"domain":[0,100]},"axis":{"values":[0,20,40,60,80,100],"labels":false,"title":null}}}}
]},
{"width":167,"height":164,"data":{"name":"pct"},"transform":[{"filter":"datum.treat == '+ GLU'"}],
"encoding":{"x":{"field":"time","type":"quantitative","scale":{"domain":[-17,118]},"axis":{"values":[0,48,96],"title":"Time (hours)","labelFontSize":21,"titleFontSize":22,"labelPadding":17,"titlePadding":19}}},
"layer":[
{"mark":{"type":"bar","width":23,"fill":"white","stroke":"black","strokeWidth":1.5},"encoding":{"y":{"field":"hnf","type":"quantitative","scale":{"domain":[0,100]},"axis":{"values":[0,20,40,60,80,100],"labels":false,"title":null}}}},
{"mark":{"type":"bar","width":23,"fill":"#bfbfbf","stroke":"black","strokeWidth":1.5},"encoding":{"y":{"field":"hnf","type":"quantitative","scale":{"domain":[0,100]},"axis":{"values":[0,20,40,60,80,100],"labels":false,"title":null}},"y2":{"datum":100}}},
{"mark":{"type":"bar","width":14,"fill":"black"},"encoding":{"y":{"field":"salp","type":"quantitative","scale":{"domain":[0,100]},"axis":{"values":[0,20,40,60,80,100],"labels":false,"title":null}}}}
]},
{"width":167,"height":164,"data":{"name":"pct"},"transform":[{"filter":"datum.treat == '+ P + GLU'"}],
"encoding":{"x":{"field":"time","type":"quantitative","scale":{"domain":[-17,118]},"axis":{"values":[0,48,96],"title":"Time (hours)","labelFontSize":21,"titleFontSize":22,"labelPadding":17,"titlePadding":19}}},
"resolve": {"scale": {"fill":"independent"}, "legend": {"fill":"independent"}},
"layer":[
{"mark":{"type":"bar","width":23,"fill":"white","stroke":"black","strokeWidth":1.5},"encoding":{"y":{"field":"hnf","type":"quantitative","scale":{"domain":[0,100]},"axis":{"values":[0,20,40,60,80,100],"labels":false,"title":null}}}},
{"mark":{"type":"bar","width":23,"fill":"#bfbfbf","stroke":"black","strokeWidth":1.5},"encoding":{"y":{"field":"hnf","type":"quantitative","scale":{"domain":[0,100]},"axis":{"values":[0,20,40,60,80,100],"labels":false,"title":null}},"y2":{"datum":100}}},
{"mark":{"type":"bar","width":14,"fill":"black"},"encoding":{"y":{"field":"salp","type":"quantitative","scale":{"domain":[0,100]},"axis":{"values":[0,20,40,60,80,100],"labels":false,"title":null}}}},
{"transform":[{"filter":"false"}],"mark":{"type":"point","filled":true,"stroke":"black","strokeWidth":1.5,"opacity":1},"encoding":{
"y":{"field":"hnf","type":"quantitative","scale":{"domain":[0,100]},"axis":{"values":[0,20,40,60,80,100],"labels":false,"title":null}},
"fill":{"field":"key","type":"nominal","scale":{"domain":["Ciliates"],"range":["#bfbfbf"]},"legend":{"orient":"none","legendX":185,"legendY":2,"title":null,"symbolSize":400,"symbolType":"M-2.7,-0.65H2.7V0.65H-2.7Z","symbolOffset":16,"labelOffset":29,"encode":{"symbols":{"update":{"stroke":{"value":"black"},"strokeWidth":{"value":1.5}}}}}}}},
{"transform":[{"filter":"false"}],"mark":{"type":"point","filled":true,"stroke":"black","strokeWidth":1.5,"opacity":1},"encoding":{
"y":{"field":"hnf","type":"quantitative","scale":{"domain":[0,100]},"axis":{"values":[0,20,40,60,80,100],"labels":false,"title":null}},
"fill":{"field":"key","type":"nominal","scale":{"domain":["HNF"],"range":["white"]},"legend":{"orient":"none","legendX":185,"legendY":34.5,"title":null,"symbolSize":400,"symbolType":"M-2.7,-0.65H2.7V0.65H-2.7Z","symbolOffset":16,"labelOffset":29,"encode":{"symbols":{"update":{"stroke":{"value":"black"},"strokeWidth":{"value":1.5}}}}}}}},
{"transform":[{"filter":"false"}],"mark":{"type":"point","filled":true,"stroke":"black","strokeWidth":1.5,"opacity":1},"encoding":{
"y":{"field":"hnf","type":"quantitative","scale":{"domain":[0,100]},"axis":{"values":[0,20,40,60,80,100],"labels":false,"title":null}},
"fill":{"field":"key","type":"nominal","scale":{"domain":["Salpingoeca"],"range":["black"]},"legend":{"orient":"none","legendX":185,"legendY":67,"title":null,"symbolSize":400,"symbolType":"M-2.7,-0.65H2.7V0.65H-2.7Z","symbolOffset":16,"labelOffset":29,"labelFontStyle":"italic","encode":{"symbols":{"update":{"stroke":{"value":"black"},"strokeWidth":{"value":1.5}}}}}}}}
]}
],
"config": {
"font": "Liberation Sans",
"view": {"stroke": "black", "strokeWidth": 2},
"axis": {"domain": false, "grid": false, "tickColor": "black", "tickWidth": 1.5, "tickSize": 7, "labelFont": "Liberation Sans", "labelFontWeight": "bold", "labelFontSize": 20, "labelColor": "black", "labelPadding": 4, "labelFlush": false, "labelOverlap": false, "titleFont": "Liberation Sans", "titleFontWeight": "bold", "titleFontSize": 20, "titleColor": "black"},
"legend": {"labelFont": "Liberation Sans", "labelFontSize": 22, "labelFontWeight": "bold", "labelColor": "black", "symbolStrokeColor": "black", "symbolStrokeWidth": 1.5, "padding": 0, "labelLimit": 300},
"title": {"font": "Liberation Sans", "fontSize": 26, "fontWeight": "bold", "color": "black", "frame": "group", "anchor": "middle", "baseline": "alphabetic", "offset": 12}
}
}
